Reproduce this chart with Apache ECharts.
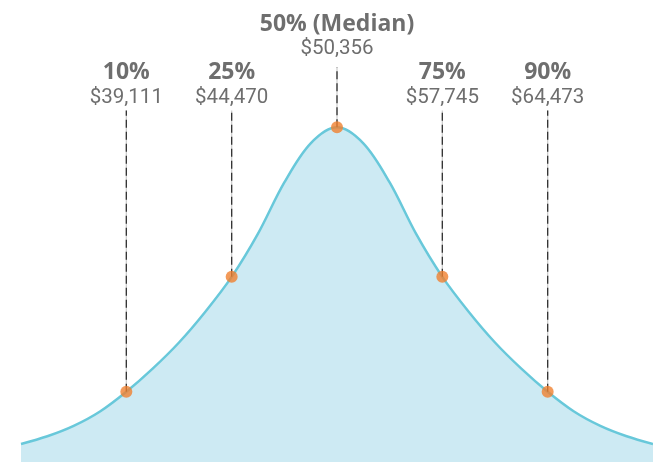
<!DOCTYPE html>
<html>
<head>
<meta charset="utf-8">
<script src="https://cdn.jsdelivr.net/npm/echarts@6/dist/echarts.min.js"></script>
<style>
  html, body { margin: 0; padding: 0; background: #fff; }
  #chart { width: 653px; height: 462px; }
</style>
</head>
<body>
<div id="chart"></div>
<script>
// Salary distribution: percentile labels and their amounts
const percentileNames = ['10%', '25%', '50% (Median)', '75%', '90%'];
const salaries = [39111, 44470, 50356, 57745, 64473];
// Where each percentile sits on the standardized horizontal scale
const percentilePos = [-2, -1, 0, 1, 2];

// Left half of the bell curve (relative density, peak = 100); right half mirrors it
const halfX = [-3, -2.75, -2.5, -2.25, -2, -1.75, -1.5, -1.25, -1, -0.75, -0.5, -0.25];
const halfY = [5.4, 7.7, 10.8, 15.1, 21.0, 27.9, 35.7, 44.9, 55.3, 68.2, 83.5, 95.2];
const peakY = 100;

const curve = halfX.map((x, i) => [x, halfY[i]])
  .concat([[0, peakY]])
  .concat(halfX.slice().reverse().map((x, i) => [-x, halfY[halfY.length - 1 - i]]));

const Y_MAX = 138;
const LEAD_TOP = 105;        // top of the leader lines
const MEDIAN_LEAD_TOP = 118; // median leader runs higher

function curveAt(x) {
  const p = curve.find(d => Math.abs(d[0] - x) < 1e-9);
  return p[1];
}

const chart = echarts.init(document.getElementById('chart'), null, { renderer: 'canvas' });

const series = [];

series.push({
  type: 'line',
  data: curve,
  smooth: 0.34,
  showSymbol: false,
  silent: true,
  lineStyle: { color: '#68c8da', width: 2.5 },
  areaStyle: { color: '#cdeaf3', opacity: 1 },
  z: 1
});

percentilePos.forEach((x, i) => {
  const top = i === 2 ? MEDIAN_LEAD_TOP : LEAD_TOP;
  const pts = [[x, curveAt(x)], [x, top]];
  series.push({
    type: 'line', data: pts, showSymbol: false, silent: true,
    lineStyle: { color: '#cfcfcf', width: 1.3 }, z: 2
  });
  series.push({
    type: 'line', data: pts, showSymbol: false, silent: true,
    lineStyle: { color: '#333333', width: 1.3, type: [8, 4] }, z: 3
  });
});

series.push({
  type: 'scatter',
  data: percentilePos.map(x => [x, curveAt(x)]),
  symbolSize: 12,
  itemStyle: { color: '#f08130' },
  silent: true,
  z: 5
});

series.push({
  type: 'scatter',
  symbolSize: 0,
  silent: true,
  data: percentilePos.map((x, i) => ({
    value: [x, i === 2 ? MEDIAN_LEAD_TOP : LEAD_TOP],
    label: {
      show: true,
      position: 'top',
      distance: i === 2 ? 6 : 1,
      formatter: '{h|' + percentileNames[i] + '}\n{v|$' + salaries[i].toLocaleString('en-US') + '}',
      rich: {
        h: { fontFamily: 'Open Sans', fontWeight: 'bold', fontSize: 23, color: '#4a4a4a', lineHeight: 26, align: 'center' },
        v: { fontFamily: 'Roboto', fontSize: 20.5, color: '#4a4a4a', lineHeight: 24, align: 'center' }
      }
    }
  })),
  z: 6
});

chart.setOption({
  animation: false,
  backgroundColor: '#ffffff',
  grid: { left: 21, right: 0, top: 0, bottom: 0 },
  xAxis: { type: 'value', min: -3, max: 3, show: false },
  yAxis: { type: 'value', min: 0, max: Y_MAX, show: false },
  series: series
});
</script>
</body>
</html>
